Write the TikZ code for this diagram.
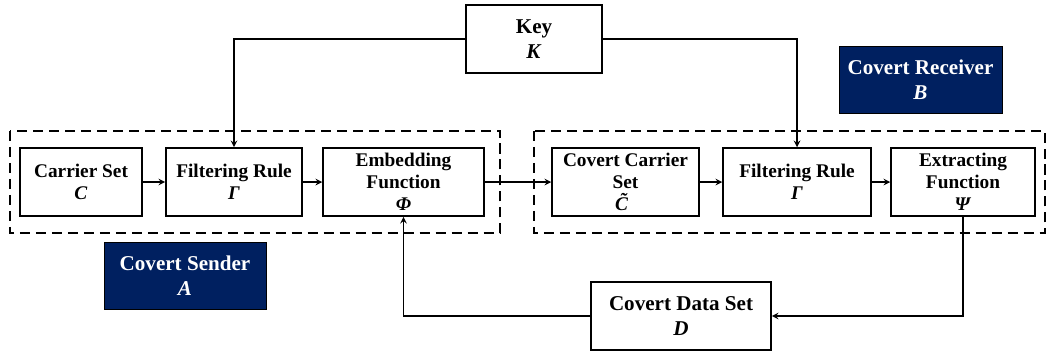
\documentclass[tikz,border=0pt]{standalone}
\usepackage{fontspec}
\setmainfont{Liberation Serif}
\usetikzlibrary{arrows,positioning}
\definecolor{navy}{HTML}{002060}
\tikzset{
    block/.style={rectangle,draw,line width=0.9pt,align=center,inner sep=0pt,
        minimum height=1.36cm,font=\fontsize{11}{12.5}\selectfont\bfseries},
    bigblock/.style={block,font=\fontsize{12}{14.5}\selectfont\bfseries},
    party/.style={rectangle,draw=black,fill=navy,text=white,align=center,inner sep=0pt,
        minimum height=1.34cm,font=\fontsize{12}{14.5}\selectfont\bfseries},
    group/.style={draw,line width=1.1pt,dash pattern=on 5.7pt off 3.4pt},
    pre/.style={->,line width=0.7pt,>=stealth},
    bi/.style={-,line width=0.7pt}
}

\begin{document}
\begin{tikzpicture}[x=0.02cm,y=-0.02cm]

    \useasboundingbox (0,0) rectangle (1050,353);

    % sender side
    \node[block,minimum width=2.44cm] (carrier)  at (81,182)    {Carrier Set\\\textit{C}};
    \node[block,minimum width=2.72cm] (filter1)  at (234,182)   {Filtering Rule\\\textit{Γ}};
    \node[block,minimum width=3.22cm] (embed)    at (403.5,182) {Embedding\\Function\\\textit{Φ}};

    % receiver side
    \node[block,minimum width=2.94cm] (covcarr)  at (625.5,182) {Covert Carrier\\Set\\\textit{C̃}};
    \node[block,minimum width=2.96cm] (filter2)  at (797,182)   {Filtering Rule\\\textit{Γ}};
    \node[block,minimum width=2.88cm] (extract)  at (963,182)   {Extracting\\Function\\\textit{Ψ}};

    \node[bigblock,minimum width=2.72cm] (key)  at (534,39)  {Key\\\textit{K}};
    \node[bigblock,minimum width=3.6cm]  (data) at (681,316) {Covert Data Set\\\textit{D}};

    \node[party,minimum width=3.24cm] (sender)   at (185,275.5)  {Covert Sender\\\textit{A}};
    \node[party,minimum width=3.26cm] (receiver) at (920.5,79.5) {Covert Receiver\\\textit{B}};

    % dashed groups
    \draw[group] (10,131) rectangle (500,233);
    \draw[group] (534,131) rectangle (1045,233);

    % flow
    \draw[pre] (carrier) -- (filter1);
    \draw[pre] (filter1) -- (embed);
    \draw[pre] (embed)   -- (covcarr);
    \draw[pre] (covcarr) -- (filter2);
    \draw[pre] (filter2) -- (extract);

    \draw[pre] (key.west) -| (filter1.north);
    \draw[pre] (key.east) -| (filter2.north);
    \draw[pre] (extract.south) |- (data.east);
    \draw[pre] (data.west) -| (embed.south);

\end{tikzpicture}
\end{document}
